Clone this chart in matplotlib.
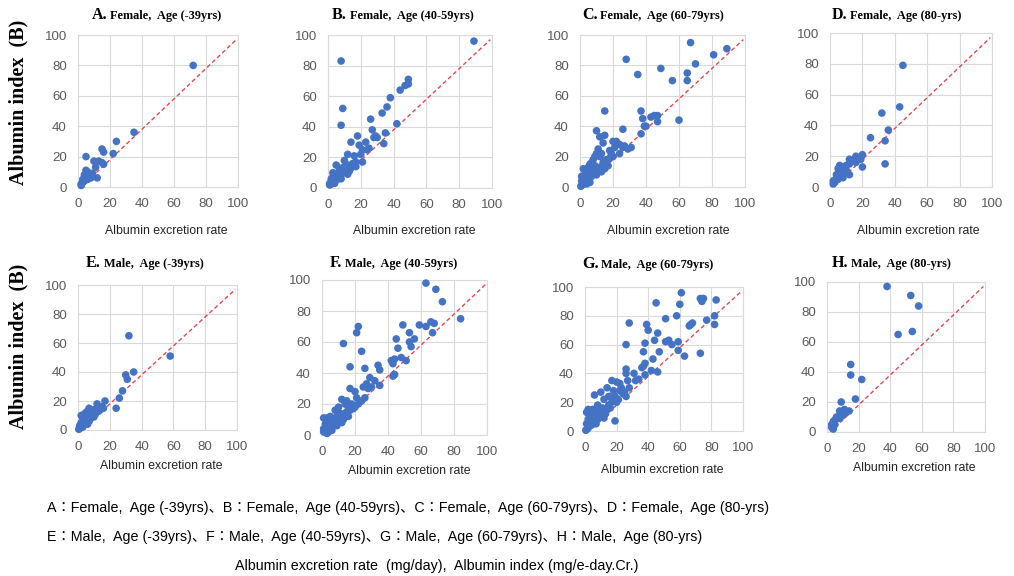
import numpy as np
import matplotlib
matplotlib.use("Agg")
import matplotlib.pyplot as plt

W, H = 1014, 576

letters = ["A.", "B.", "C.", "D.", "E.", "F.", "G.", "H."]
titles = ["Female,  Age (-39yrs)", "Female,  Age (40-59yrs)", "Female,  Age (60-79yrs)", "Female,  Age (80-yrs)",
          "Male,  Age (-39yrs)", "Male,  Age (40-59yrs)", "Male,  Age (60-79yrs)", "Male,  Age (80-yrs)"]

# albumin excretion rate (x) / albumin index (y)
a_x = [72, 35, 24, 22, 15, 16, 5, 15, 10, 11, 12, 16, 13, 5, 6, 4, 3, 2, 3, 5, 7, 8, 4, 6, 2, 9]
a_y = [80, 36, 30, 22, 25, 23, 20, 16, 17, 13, 6, 15, 17, 11, 10, 8, 5, 2, 3, 7, 8, 6, 4, 5, 1, 9]

b_x = [89, 8, 9, 8, 49, 49, 47, 44, 38, 36, 33, 42, 26, 27, 35, 34, 29, 23, 25, 18, 19, 14, 21, 21, 12, 16,
       10, 5, 8, 12, 15, 6, 4, 3, 2, 1, 3, 5, 7, 9, 11, 13, 2, 4, 6, 10, 14, 17, 20, 24, 28, 30, 7, 3, 2, 8, 12, 1, 17]
b_y = [96, 83, 52, 41, 71, 68, 67, 64, 59, 53, 49, 42, 45, 38, 36, 29, 34, 30, 26, 34, 28, 30, 25, 17, 22, 21,
       18, 15, 12, 15, 16, 10, 8, 5, 3, 2, 7, 5, 8, 10, 12, 11, 4, 3, 6, 14, 13, 17, 22, 25, 33, 33, 13, 10, 6, 6, 9, 3, 14]

c_x = [67, 89, 81, 28, 70, 49, 35, 65, 56, 65, 15, 37, 60, 38, 47, 45, 43, 47, 39, 40, 37, 26, 10, 12, 15, 14,
       20, 22, 24, 27, 31, 29, 18, 19, 21, 17, 10, 12, 8, 6, 9, 11, 13, 4, 2, 3, 5, 1, 2, 1, 3, 4, 6, 7, 8, 10,
       14, 16, 18, 20, 24, 26, 1, 3, 5, 7, 12, 15, 9, 11, 13, 0.5, 2, 6, 4]
c_y = [95, 91, 87, 84, 81, 78, 74, 75, 70, 70, 50, 50, 44, 45, 47, 47, 46, 43, 40, 40, 35, 38, 37, 33, 34, 29,
       30, 30, 28, 27, 26, 25, 24, 22, 26, 14, 22, 20, 18, 15, 14, 12, 10, 10, 12, 8, 6, 4, 2, 1, 3, 5, 9, 7, 11, 8,
       16, 18, 19, 20, 22, 26, 7, 11, 13, 16, 13, 12, 20, 25, 22, 0.5, 5, 3, 2]

d_x = [45, 43, 32, 36, 34, 25, 34, 20, 19, 20, 18, 16, 14, 12, 12, 12, 10, 10, 8, 6, 5, 6, 4, 4, 3, 2, 2, 3,
       5, 7, 8, 9, 6, 16]
d_y = [79, 52, 48, 37, 30, 32, 15, 21, 18, 13, 19, 20, 17, 18, 15, 8, 14, 11, 12, 14, 12, 9, 8, 6, 4, 2, 4, 3,
       5, 7, 6, 9, 11, 16]

e_x = [32, 58, 35, 30, 31, 28, 26, 24, 17, 12, 15, 10, 7, 6, 5, 2, 4, 8, 9, 11, 13, 3, 4, 2, 1, 1, 0.5, 2, 3,
       5, 6, 7, 8, 3, 10, 14, 16, 6]
e_y = [65, 51, 40, 38, 35, 27, 22, 15, 20, 18, 16, 14, 15, 13, 12, 10, 11, 10, 12, 11, 13, 8, 6, 5, 3, 1, 0.5, 2, 4,
       7, 8, 6, 8, 2, 9, 14, 15, 4]

f_x = [63, 69, 73, 84, 66, 68, 63, 59, 49, 22, 21, 67, 53, 13, 45, 56, 53, 54, 46, 24, 48, 51, 42, 44, 43, 34,
       35, 17, 26, 43, 44, 35, 32, 29, 27, 30, 25, 20, 21, 24, 17, 15, 18, 16, 14, 12, 10, 8, 5, 3, 1, 2, 4, 6,
       7, 9, 11, 13, 12, 15, 17, 19, 22, 26, 28, 1, 2, 3, 5, 1, 8, 10, 14, 20, 4, 6, 9, 3, 11, 16]
f_y = [98, 94, 86, 75, 73, 72, 70, 71, 71, 70, 66, 66, 66, 59, 62, 62, 60, 57, 56, 54, 50, 48, 48, 49, 46, 45,
       42, 44, 43, 38, 39, 32, 35, 37, 33, 31, 31, 28, 24, 22, 30, 22, 20, 18, 20, 23, 18, 16, 12, 11, 11, 7, 8, 10,
       6, 12, 14, 10, 8, 15, 16, 17, 20, 24, 30, 2, 3, 4, 5, 4, 8, 10, 14, 18, 2, 3, 6, 1, 13, 12]

g_x = [61, 73, 75, 83, 74, 45, 60, 58, 82, 77, 67, 66, 68, 82, 28, 39, 51, 40, 46, 44, 38, 26, 51, 53, 55, 59,
       47, 37, 59, 63, 73, 43, 38, 37, 36, 46, 42, 38, 31, 26, 26, 34, 32, 28, 27, 25, 17, 20, 22, 23, 18, 15,
       14, 12, 10, 20, 19, 16, 6, 8, 5, 2, 1, 4, 3, 7, 9, 11, 13, 15, 17, 19, 21, 24, 10, 8, 6, 4, 2, 1, 0.5,
       3, 5, 7, 12, 14, 22, 26, 1, 2, 6, 18]
g_y = [96, 92, 92, 91, 90, 89, 88, 80, 80, 77, 74, 73, 75, 74, 75, 74, 78, 70, 68, 63, 61, 60, 62, 63, 60, 62,
       55, 55, 56, 52, 54, 50, 47, 45, 44, 41, 42, 39, 40, 43, 40, 36, 35, 30, 35, 27, 35, 34, 33, 30, 28, 24,
       30, 22, 27, 20, 7, 16, 25, 18, 15, 15, 13, 14, 10, 12, 14, 16, 12, 18, 20, 24, 22, 26, 10, 8, 6, 4, 2, 1, 0.5,
       6, 8, 5, 9, 15, 28, 24, 5, 8, 11, 22]

h_x = [38, 53, 58, 45, 54, 15, 15, 22, 18, 9, 8, 11, 14, 10, 8, 6, 5, 4, 3, 3, 4, 5, 12]
h_y = [97, 91, 84, 65, 67, 45, 38, 35, 22, 20, 14, 15, 14, 11, 9, 10, 8, 7, 5, 3, 2, 5, 13]

xs = [a_x, b_x, c_x, d_x, e_x, f_x, g_x, h_x]
ys = [a_y, b_y, c_y, d_y, e_y, f_y, g_y, h_y]

# axes boxes in pixels: left, right, top, bottom
boxes = [(78, 238, 35, 187), (328, 492, 35, 188), (580, 745, 35, 187), (830, 992, 33, 187),
         (78, 237, 285, 430), (322, 487, 280, 435), (585, 743, 287, 431), (827, 985, 282, 432)]
title_pos = [(92, 15), (332, 15), (582, 15), (832, 15), (86, 263), (330, 263), (582, 264), (832, 263)]
xlabel_pos = [(166, 231), (414, 231), (668, 231), (918, 231), (161, 466), (409, 471), (662, 470), (914, 468)]

blue = "#4472C4"
grey = "#595959"

fig = plt.figure(figsize=(W / 100, H / 100), dpi=100)
fig.patch.set_facecolor("white")

for i in range(8):
    l, r, t, b = boxes[i]
    ax = fig.add_axes([l / W, 1 - b / H, (r - l) / W, (b - t) / H])
    ax.set_xlim(0, 100)
    ax.set_ylim(0, 100)
    ax.set_xticks(range(0, 101, 20))
    ax.set_yticks(range(0, 101, 20))
    ax.grid(color="#D9D9D9", lw=0.8)
    ax.set_axisbelow(True)
    for s in ax.spines.values():
        s.set_color("#D9D9D9")
        s.set_linewidth(0.8)
    ax.tick_params(length=0, pad=8, labelsize=9.5, labelcolor=grey)
    for lab in ax.get_xticklabels() + ax.get_yticklabels():
        lab.set_family("Liberation Sans")
    ref = np.array([2, 99])
    ax.plot(ref, ref - 2, color="#E8474C", lw=1, ls=(0, (3, 2)), zorder=1)
    ax.scatter(xs[i], ys[i], s=30, color=blue, edgecolors="none", zorder=3, clip_on=False)

    tx, ty = title_pos[i]
    t1 = fig.text(tx / W, 1 - ty / H, letters[i], fontsize=11.5, fontweight="bold",
                  family="Liberation Serif", va="center", ha="left")
    ax.annotate(titles[i], xy=(1, 0), xycoords=t1, xytext=(2, 1), textcoords="offset points",
                fontsize=8.8, fontweight="bold", family="Liberation Serif", va="bottom", ha="left",
                annotation_clip=False)

    lx, ly = xlabel_pos[i]
    fig.text(lx / W, 1 - ly / H, "Albumin excretion rate", fontsize=8.8, family="Liberation Sans",
             ha="center", va="center", color="#222222")

for yc in (102, 346):
    fig.text(18 / W, 1 - yc / H, "Albumin index  (B)", rotation=90, fontsize=14.5, fontweight="bold",
             family="Liberation Serif", ha="center", va="center")

cap_font = ["Liberation Sans Narrow", "Liberation Sans", "Noto Sans CJK JP"]
cap1 = "A：Female,  Age (-39yrs)、B：Female,  Age (40-59yrs)、C：Female,  Age (60-79yrs)、D：Female,  Age (80-yrs)"
cap2 = "E：Male,  Age (-39yrs)、F：Male,  Age (40-59yrs)、G：Male,  Age (60-79yrs)、H：Male,  Age (80-yrs)"
cap3 = "Albumin excretion rate  (mg/day),  Albumin index (mg/e-day.Cr.)"

c1 = fig.text(47 / W, 1 - 508 / H, cap1, fontsize=10, family=cap_font, va="center", ha="left")
c2 = fig.text(47 / W, 1 - 537 / H, cap2, fontsize=10, family=cap_font, va="center", ha="left")
c3 = fig.text(235 / W, 1 - 566 / H, cap3, fontsize=10, family=cap_font, va="center", ha="left")

# size caption so the first line spans the same width as in the picture
fig.canvas.draw()
w1 = c1.get_window_extent().width
fs = 10 * 723 / w1
for c in (c1, c2, c3):
    c.set_fontsize(fs)

fig.savefig("out.png", dpi=100)
